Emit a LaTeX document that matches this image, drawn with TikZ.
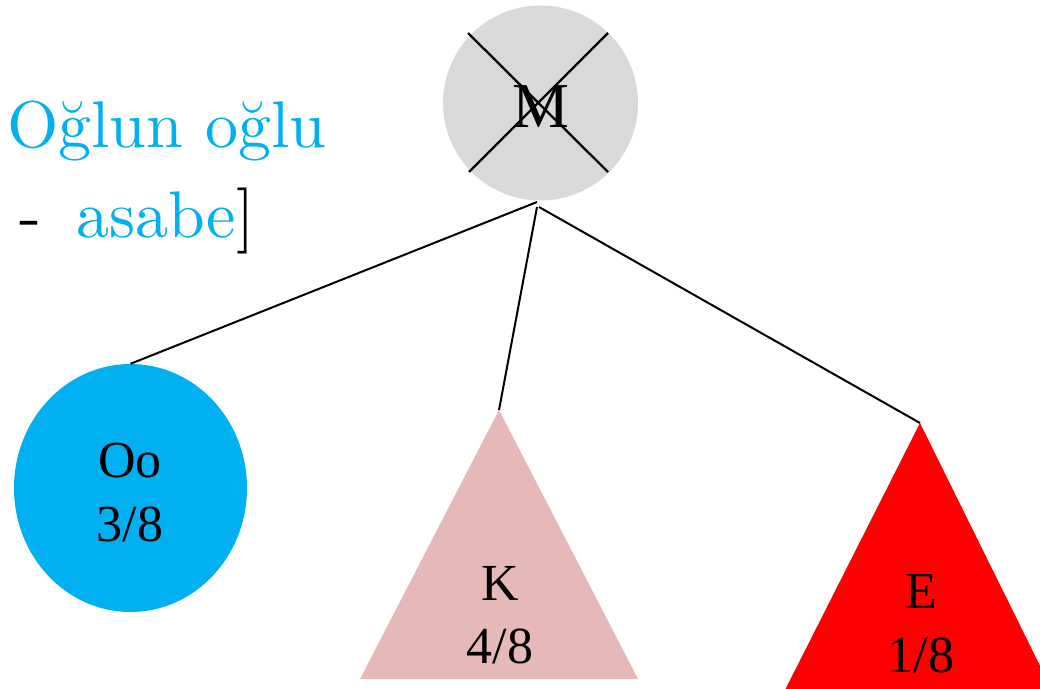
\documentclass[tikz,border=0pt]{standalone}
\usepackage{fontspec}
\usetikzlibrary{shapes.geometric}
\newfontfamily\tnr{Liberation Serif}
\newfontfamily\lmten{lmroman10-regular}[Extension=.otf]
\definecolor{skyb}{HTML}{00B0F0}
\definecolor{greyc}{HTML}{D9D9D9}
\definecolor{pinkc}{HTML}{E6B9B8}
\definecolor{redc}{HTML}{FF0000}
\tikzset{
  lbl/.style={anchor=base, inner sep=0pt, font=\tnr\fontsize{52}{62}\selectfont},
  conn/.style={draw=black, line width=2pt},
  bigtxt/.style={inner sep=0pt, font=\lmten\fontsize{66}{79}\selectfont},
}
\begin{document}
\begin{tikzpicture}[x=1pt,y=-1pt]
\useasboundingbox (0,0) rectangle (1040,688);
\clip (0,0) rectangle (1040,688);
% M node
\node[circle, fill=greyc, minimum size=195pt, inner sep=0pt] (M) at (540.5,103) {};
\draw[line width=2.3pt] (468,33) -- (608,172);
\draw[line width=2.3pt] (608,33) -- (469,172);
\node[anchor=base, inner sep=0pt, font=\tnr\fontsize{64}{76}\selectfont] (Mt) at (541,127) {M};
% Oo
\node[ellipse, fill=skyb, minimum width=233pt, minimum height=248pt, inner sep=0pt] (Oo) at (130.5,488) {};
\node[lbl] (Oot) at (130,477) {Oo};
\node[lbl] (Oof) at (130,541) {3/8};
% K triangle
\coordinate (Ktop) at (499,410);
\fill[pinkc] (Ktop) -- (638,679) -- (360,679) -- cycle;
\node[lbl] (Kt) at (500,600) {K};
\node[lbl] (Kf) at (500,663) {4/8};
% E triangle
\coordinate (Etop) at (920,423);
\fill[redc] (Etop) -- (1052,690) -- (785,690) -- cycle;
\node[lbl] (Et) at (921,608) {E};
\node[lbl] (Ef) at (921,672) {1/8};
% connectors
\coordinate (Mb1) at (537,202);
\coordinate (Mb2) at (537,207);
\coordinate (Mb3) at (539,207);
\draw[conn] (Mb1) -- (Oo.north);
\draw[conn] (Mb2) -- (Ktop);
\draw[conn] (Mb3) -- (Etop);
% left text
\node[bigtxt, anchor=base west, text=skyb] (t1) at (7,147) {Oğlun oğlu};
\node[bigtxt, anchor=base] (t2) at (30,237) {-};
\node[bigtxt, anchor=base west] (t3) at (76,237) {\textcolor{skyb}{asabe}]};
\end{tikzpicture}
\end{document}
